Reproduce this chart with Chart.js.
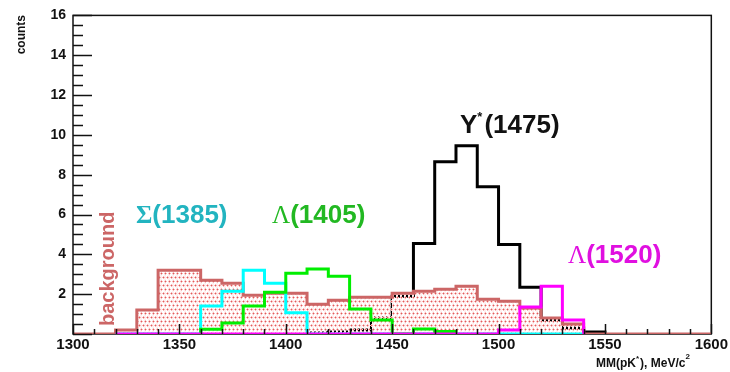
<!DOCTYPE html>
<html>
<head>
<meta charset="utf-8">
<script src="https://cdn.jsdelivr.net/npm/chart.js@4.4.1/dist/chart.umd.min.js"></script>
<style>
  html, body { margin: 0; padding: 0; background: #fff; }
  #wrap { width: 730px; height: 372px; }
</style>
</head>
<body>
<div id="wrap"><canvas id="mmChart"></canvas></div>
<script>
// 10 MeV bins, every array starts at its own lower bin edge
var binWidth = 10;

var bgStart = 1300;
var bgCounts = [0, 0, 0.2, 1.2, 3.2, 3.2, 2.7, 2.55, 1.95, 2.05,
  2.05, 1.5, 1.7, 1.85, 1.85, 2.05, 2.15, 2.25, 2.4, 1.75,
  1.65, 1.3, 0.8, 0.5, 0, 0, 0, 0, 0, 0];

var sigmaStart = 1320;
var sigmaCounts = [0, 0, 0, 0, 1.4, 2.15, 3.2, 2.55, 1.07, 0,
  0, 0, 0, 0, 0, 0, 0, 0, 0, 0, 0, 0];

var lambdaStart = 1360;
var lambdaCounts = [0.24, 0.55, 1.4, 2.1, 3.05, 3.27, 2.9, 1.25, 0.7, 0,
  0.25, 0.12];

var l1520Start = 1320;
var l1520Counts = [0, 0, 0, 0, 0, 0, 0, 0, 0, 0, 0, 0, 0, 0, 0, 0, 0, 0,
  0.2, 1.35, 2.4, 0.7];

var ystarStart = 1410;
var ystarCounts = [0.05, 0.1, 0.2, 0.8, 1.9, 4.55, 8.65, 9.45, 7.4, 4.5,
  2.35, 0.7, 0.3, 0.1];

var xTickValues = [1300, 1350, 1400, 1450, 1500, 1550, 1600];
var yTickValues = [0, 2, 4, 6, 8, 10, 12, 14, 16];

function steps(start, counts) {
  var pts = [{ x: start, y: 0 }];
  counts.forEach(function (c, i) {
    pts.push({ x: start + i * binWidth, y: c });
  });
  pts.push({ x: start + counts.length * binWidth, y: 0 });
  return pts;
}

// pinkish columns with red dots, the gaps let lines underneath show dashed
function dotPattern() {
  var c = document.createElement("canvas");
  c.width = 4;
  c.height = 8;
  var g = c.getContext("2d");
  g.fillStyle = "#fff0f0";
  g.fillRect(0, 0, 2, 8);
  g.fillStyle = "#f6b8b8";
  g.fillRect(0, 1, 3, 1);
  g.fillRect(1, 0, 1, 3);
  g.fillRect(2, 5, 2, 1);
  g.fillRect(0, 5, 1, 1);
  g.fillRect(3, 4, 1, 3);
  g.fillStyle = "#e25a5a";
  g.fillRect(1, 1, 1, 1);
  g.fillRect(3, 5, 1, 1);
  return g.createPattern(c, "repeat");
}

function hist(data, color, extra) {
  var ds = {
    data: data,
    borderColor: color,
    borderWidth: 3,
    stepped: true,
    pointRadius: 0,
    fill: false,
    borderJoinStyle: "miter",
  };
  return Object.assign(ds, extra || {});
}

var sans = "'Liberation Sans', Arial, sans-serif";
var serif = "'Liberation Serif', 'DejaVu Serif', serif";

function drawParts(ctx, x, y, parts) {
  parts.forEach(function (p) {
    ctx.font = p.font;
    ctx.fillText(p.text, x, y - (p.rise || 0));
    x += ctx.measureText(p.text).width + (p.gap || 0);
  });
}

var rootFrame = {
  id: "rootFrame",
  beforeDatasetsDraw: function (chart) {
    var a = chart.chartArea;
    var ctx = chart.ctx;
    ctx.save();
    ctx.strokeStyle = "#111";
    ctx.lineWidth = 1.5;
    ctx.strokeRect(a.left, a.top, a.right - a.left, a.bottom - a.top);
    ctx.restore();
  },
  afterDatasetsDraw: function (chart) {
    var a = chart.chartArea;
    var ctx = chart.ctx;
    var xs = chart.scales.x;
    var ys = chart.scales.y;
    ctx.save();
    ctx.strokeStyle = "#111";
    ctx.lineWidth = 1.5;
    ctx.beginPath();
    for (var v = 0; v <= 16; v += 0.5) {
      var py = Math.round(ys.getPixelForValue(v)) + 0.5;
      var len = v % 2 === 0 ? 19 : 10;
      ctx.moveTo(a.left, py);
      ctx.lineTo(a.left + len, py);
    }
    for (var m = 1300; m <= 1600; m += 10) {
      var px = Math.round(xs.getPixelForValue(m)) + 0.5;
      var h = m % 50 === 0 ? 10 : 5;
      ctx.moveTo(px, a.bottom);
      ctx.lineTo(px, a.bottom - h);
    }
    ctx.stroke();
    ctx.restore();
  },
  afterDraw: function (chart) {
    var ctx = chart.ctx;
    ctx.save();
    ctx.textBaseline = "alphabetic";
    ctx.textAlign = "left";

    ctx.fillStyle = "#22b4c0";
    drawParts(ctx, 136, 223, [
      { text: "\u03A3", font: "bold 25px " + serif },
      { text: "(1385)", font: "bold 26px " + sans },
    ]);
    ctx.fillStyle = "#22b822";
    drawParts(ctx, 272, 223, [
      { text: "\u039B", font: "25px " + serif },
      { text: "(1405)", font: "bold 26px " + sans },
    ]);
    ctx.fillStyle = "#e010e0";
    drawParts(ctx, 568, 263, [
      { text: "\u039B", font: "25px " + serif },
      { text: "(1520)", font: "bold 26px " + sans },
    ]);
    ctx.fillStyle = "#111";
    drawParts(ctx, 460, 133, [
      { text: "Y", font: "bold 26px " + sans },
      { text: "*", font: "bold 13px " + sans, rise: 12, gap: 2 },
      { text: "(1475)", font: "bold 26px " + sans },
    ]);

    // x axis title
    ctx.fillStyle = "#111";
    drawParts(ctx, 596, 367, [
      { text: "MM(pK", font: "bold 12px " + sans },
      { text: "*", font: "bold 8px " + sans, rise: 6, gap: 1 },
      { text: "), MeV/c", font: "bold 12px " + sans },
      { text: "2", font: "bold 8px " + sans, rise: 8 },
    ]);

    // rotated texts
    ctx.save();
    ctx.translate(25, 15);
    ctx.rotate(-Math.PI / 2);
    ctx.textAlign = "right";
    ctx.font = "bold 12px " + sans;
    ctx.fillText("counts", 0, 0);
    ctx.restore();

    ctx.save();
    ctx.translate(114, 326);
    ctx.rotate(-Math.PI / 2);
    ctx.textAlign = "left";
    ctx.fillStyle = "#cc6666";
    ctx.font = "bold 20px " + sans;
    ctx.fillText("background", 0, 0);
    ctx.restore();

    ctx.restore();
  },
};

var ctx = document.getElementById("mmChart").getContext("2d");
var mmChart = new Chart(ctx, {
  type: "line",
  data: {
    datasets: [
      hist(steps(l1520Start, l1520Counts), "#ff00ff"),
      hist(steps(lambdaStart, lambdaCounts), "#00ee00"),
      hist(steps(sigmaStart, sigmaCounts), "#00ffff"),
      hist(steps(bgStart, bgCounts), "#cc6666", {
        fill: "origin",
        backgroundColor: dotPattern(),
      }),
      hist(steps(ystarStart, ystarCounts), "#000000"),
    ],
  },
  options: {
    responsive: true,
    maintainAspectRatio: false,
    animation: false,
    devicePixelRatio: 1,
    layout: { padding: { left: 0, top: 15, right: 14, bottom: 0 } },
    plugins: {
      legend: { display: false },
      tooltip: { enabled: false },
    },
    scales: {
      x: {
        type: "linear",
        min: 1300,
        max: 1600,
        grid: { display: false, drawTicks: false, tickLength: 0 },
        border: { display: false },
        afterBuildTicks: function (s) {
          s.ticks = xTickValues.map(function (v) { return { value: v }; });
        },
        afterFit: function (s) { s.height = 38; },
        ticks: {
          color: "#111",
          padding: 2,
          maxRotation: 0,
          autoSkip: false,
          font: { family: sans, size: 15, weight: "bold" },
          callback: function (v) { return String(v); },
        },
      },
      y: {
        min: 0,
        max: 16,
        grid: { display: false, drawTicks: false, tickLength: 0 },
        border: { display: false },
        afterBuildTicks: function (s) {
          s.ticks = yTickValues.map(function (v) { return { value: v }; });
        },
        afterFit: function (s) { s.width = 73; },
        ticks: {
          color: "#111",
          padding: 7,
          autoSkip: false,
          font: { family: sans, size: 14, weight: "bold" },
          callback: function (v) { return v === 0 ? "" : String(v); },
        },
      },
    },
  },
  plugins: [rootFrame],
});
</script>
</body>
</html>
